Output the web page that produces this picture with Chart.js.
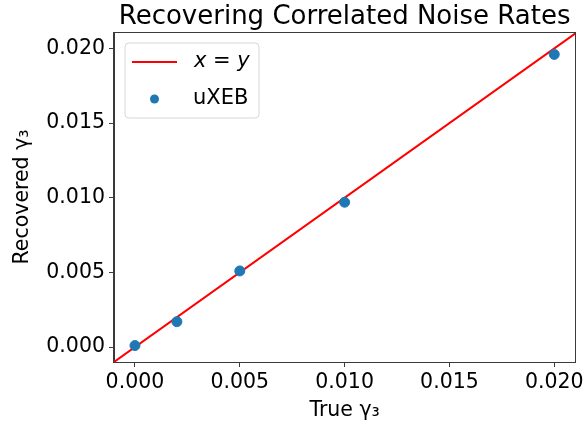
<!DOCTYPE html>
<html>
  <head>
    <title>Recovering Correlated Noise Rates</title>
    <script src="https://cdn.jsdelivr.net/npm/chart.js@4.4.1/dist/chart.umd.min.js"></script>
    <style>
      html, body { margin: 0; padding: 0; background: #fff; }
      #wrap { width: 587px; height: 423px; }
    </style>
  </head>
  <body>
    <div id="wrap">
      <canvas id="canvas" width="587" height="423"></canvas>
    </div>
    <script>
      // data
      var trueGamma = [0.000, 0.002, 0.005, 0.010, 0.020];
      var recoveredGamma = [0.0001, 0.0017, 0.0051, 0.0097, 0.0196];
      var identityX = [-0.001, 0.0215];
      var tickValues = [0.000, 0.005, 0.010, 0.015, 0.020];

      var FONT = "'DejaVu Sans', sans-serif";
      var AXIS = '#3a3a3a';

      function setTicks(scale) {
        scale.ticks = tickValues.map(function (v) { return { value: v }; });
      }

      // frame, title and in-axes legend (matplotlib style)
      var decorations = {
        id: 'decorations',
        afterDatasetsDraw: function (chart) {
          var ctx = chart.ctx;
          var a = chart.chartArea;
          ctx.save();
          ctx.strokeStyle = AXIS;
          ctx.lineWidth = 1;
          ctx.strokeRect(Math.round(a.left) - 0.5, Math.round(a.top) + 0.5,
                         Math.round(a.right - a.left) + 1, Math.round(a.bottom - a.top));

          // title
          ctx.fillStyle = '#000';
          ctx.font = '26px ' + FONT;
          ctx.textAlign = 'center';
          ctx.textBaseline = 'alphabetic';
          ctx.fillText('Recovering Correlated Noise Rates', (a.left + a.right) / 2, 24);

          // legend box
          var bx = 125, by = 43, bw = 134, bh = 75, r = 4;
          ctx.beginPath();
          ctx.moveTo(bx + r, by);
          ctx.arcTo(bx + bw, by, bx + bw, by + bh, r);
          ctx.arcTo(bx + bw, by + bh, bx, by + bh, r);
          ctx.arcTo(bx, by + bh, bx, by, r);
          ctx.arcTo(bx, by, bx + bw, by, r);
          ctx.closePath();
          ctx.fillStyle = 'rgba(255,255,255,0.8)';
          ctx.fill();
          ctx.strokeStyle = '#d6d6d6';
          ctx.stroke();

          var ds = chart.data.datasets;
          // line entry
          ctx.strokeStyle = ds[0].borderColor;
          ctx.lineWidth = 2;
          ctx.beginPath();
          ctx.moveTo(132, 62);
          ctx.lineTo(177, 62);
          ctx.stroke();
          ctx.fillStyle = '#000';
          ctx.textAlign = 'left';
          ctx.textBaseline = 'middle';
          ctx.font = 'italic 21px ' + FONT;
          ctx.fillText(ds[0].label, 194, 62);
          // scatter entry
          ctx.fillStyle = ds[1].backgroundColor;
          ctx.beginPath();
          ctx.arc(154.5, 99, 4.5, 0, Math.PI * 2);
          ctx.fill();
          ctx.fillStyle = '#000';
          ctx.font = '21px ' + FONT;
          ctx.fillText(ds[1].label, 193, 99);
          ctx.restore();
        }
      };

      var ctx = document.getElementById('canvas').getContext('2d');
      window.myChart = new Chart(ctx, {
        type: 'scatter',
        data: {
          datasets: [{
            type: 'line',
            label: 'x = y',
            data: identityX.map(function (v) { return { x: v, y: v }; }),
            borderColor: '#ff0000',
            borderWidth: 2,
            pointRadius: 0,
            fill: false,
            order: 2
          }, {
            label: 'uXEB',
            data: trueGamma.map(function (v, i) { return { x: v, y: recoveredGamma[i] }; }),
            backgroundColor: '#1f77b4',
            borderColor: '#1f77b4',
            pointRadius: 5,
            order: 1
          }]
        },
        options: {
          responsive: false,
          animation: false,
          layout: { padding: { left: 0, right: 9, top: 32, bottom: 0 } },
          plugins: {
            legend: { display: false },
            title: { display: false },
            tooltip: { enabled: false }
          },
          scales: {
            x: {
              type: 'linear',
              min: -0.001,
              max: 0.021,
              afterBuildTicks: setTicks,
              afterFit: function (scale) { scale.height = 61; },
              grid: { drawOnChartArea: false, drawTicks: true, tickLength: 5, tickColor: AXIS },
              border: { display: true, color: AXIS },
              ticks: {
                color: '#000',
                font: { family: FONT, size: 20.5 },
                padding: 3,
                maxRotation: 0,
                callback: function (v) { return v.toFixed(3); }
              },
              title: {
                display: true,
                text: 'True γ₃',
                color: '#000',
                font: { family: FONT, size: 20.5 },
                padding: { top: 0, bottom: 0 }
              }
            },
            y: {
              type: 'linear',
              min: -0.001,
              max: 0.0211,
              afterBuildTicks: setTicks,
              afterFit: function (scale) { scale.width = 114; },
              grid: { drawOnChartArea: false, drawTicks: true, tickLength: 5, tickColor: AXIS },
              border: { display: true, color: AXIS },
              ticks: {
                color: '#000',
                font: { family: FONT, size: 20.5 },
                padding: 4,
                callback: function (v) { return v.toFixed(3); }
              },
              title: {
                display: true,
                text: 'Recovered γ₃',
                color: '#000',
                font: { family: FONT, size: 20.5 },
                padding: { top: 10, bottom: 0 }
              }
            }
          }
        },
        plugins: [decorations]
      });
    </script>
  </body>
</html>
